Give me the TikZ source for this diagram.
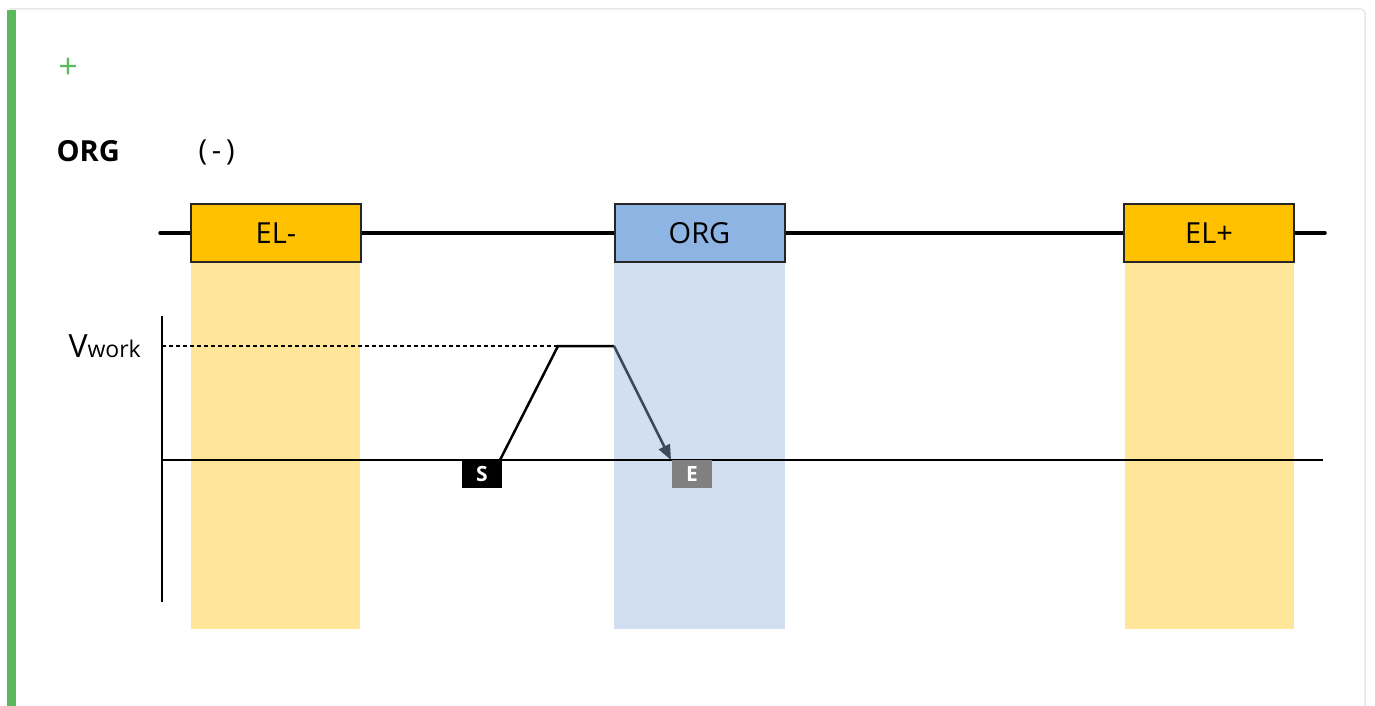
\documentclass[tikz,border=0pt]{standalone}
\usepackage{fontspec}
\setmainfont{Open Sans}
\usetikzlibrary{arrows.meta}
\definecolor{gbar}{HTML}{5CB85C}
\definecolor{elfill}{HTML}{FFC000}
\definecolor{elshade}{HTML}{FFE699}
\definecolor{orgfill}{HTML}{8EB4E3}
\definecolor{orgshade}{HTML}{D2DFF1}
\definecolor{arr}{HTML}{3B4A5C}
\definecolor{cardborder}{HTML}{E8E8E8}
\begin{document}
\begin{tikzpicture}[x=1pt,y=-1pt,
  topbox/.style={draw=black!85,line width=2pt,minimum width=170pt,minimum height=58pt,inner sep=0pt,font=\fontsize{29}{32}\selectfont},
  tag/.style={minimum width=40pt,minimum height=28pt,inner sep=0pt,text=white,font=\bfseries\fontsize{21}{22}\selectfont}]
\useasboundingbox (0,0) rectangle (1375,706);
\fill[white] (0,0) rectangle (1375,706);
% card
\draw[cardborder,line width=1.5pt,rounded corners=4pt] (9,9) -- (1365,9) -- (1365,720);
\draw[cardborder,line width=1pt] (9,9) -- (9,706);
\fill[gbar] (7,10) rectangle (16,706);
% header texts
\node[text=gbar,font=\fontsize{34}{36}\selectfont] (plus) at (68,68) {+};
\node[anchor=west,font=\bfseries\fontsize{29}{32}\selectfont] (title) at (53,151) {ORG};
\node[anchor=west,font=\fontsize{29}{32}\selectfont] (paren) at (195,152) {(\,-\,)};
% shaded columns
\fill[elshade] (191,262) rectangle (360,629);
\fill[orgshade] (614,262) rectangle (785,629);
\fill[elshade] (1125,262) rectangle (1294,629);
% top line
\coordinate (tl) at (160,233);
\coordinate (tr) at (1325,233);
\draw[line width=3.5pt,line cap=round] (tl) -- (tr);
\node[topbox,fill=elfill] (elm) at (276,233) {EL-};
\node[topbox,fill=orgfill] (org) at (699.5,233) {ORG};
\node[topbox,fill=elfill] (elp) at (1209,233) {EL+};
% axes
\coordinate (ax0) at (162,316);
\coordinate (ax1) at (162,602);
\draw[line width=2pt] (ax0) -- (ax1);
\coordinate (h0) at (162,460);
\coordinate (h1) at (1323,460);
\draw[line width=2pt] (h0) -- (h1);
% Vwork
\node[anchor=east,inner sep=0pt] (vw) at (141,346) {\fontsize{32}{34}\selectfont V\fontsize{23}{25}\selectfont work};
\coordinate (d0) at (162,346);
\coordinate (p1) at (558,346);
\coordinate (p2) at (614,346);
\coordinate (ps) at (500,460);
\coordinate (pe) at (671,460);
\draw[line width=2pt,dash pattern=on 4pt off 3pt] (d0) -- (p1);
\draw[line width=2.5pt,line join=miter] (ps) -- (p1) -- (p2);
\draw[arr,line width=2.5pt,-{Triangle[length=15pt,width=12pt]}] (p2) -- (pe);
% tags
\node[tag,fill=black] (S) at (482,474) {S};
\node[tag,fill=black!50] (E) at (692,474) {E};
\end{tikzpicture}
\end{document}
